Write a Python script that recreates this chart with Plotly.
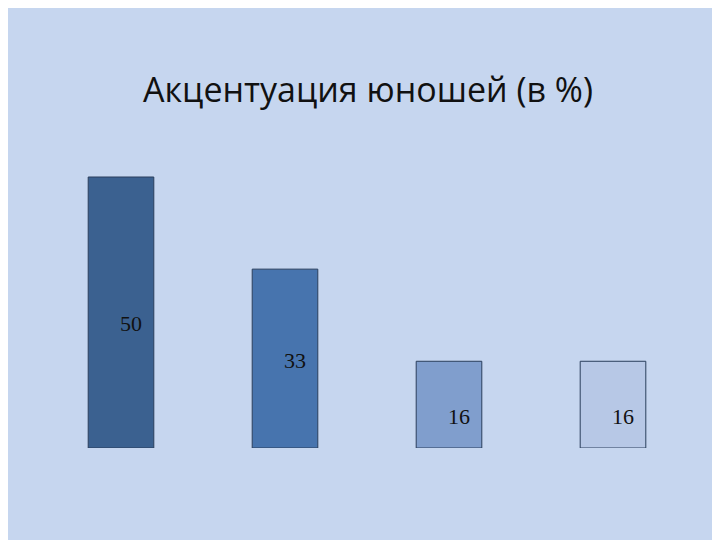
import plotly.graph_objects as go

positions = [0, 1, 2, 3]
values = [50, 33, 16, 16]
labels = ["50", "33", "16", "16"]
colors = ["#3b6190", "#4774ae", "#809ecd", "#b7c8e6"]

fig = go.Figure()
fig.add_trace(go.Bar(
    x=positions, y=values,
    marker=dict(color=colors, line=dict(color="#2a3f5c", width=1)),
    hoverinfo="skip",
))

# value labels sit inside the bars, a bit below the middle
label_pos = [0.46, 0.49, 0.36, 0.36]
for c, v, t, p in zip(positions, values, labels, label_pos):
    fig.add_annotation(x=c, y=v * p, text=t, showarrow=False, xshift=10,
                       font=dict(family="Liberation Serif", size=22, color="#111"))

fig.update_layout(
    width=720, height=540,
    title=dict(text="Акцентуация юношей (в %)", x=0.5, y=0.87, xanchor="center",
               font=dict(family="Open Sans", size=34, color="#111")),
    paper_bgcolor="#c6d6ef", plot_bgcolor="rgba(0,0,0,0)",
    margin=dict(l=31, r=33, t=100, b=100),
    bargap=0.6, showlegend=False,
    xaxis=dict(visible=False, range=[-0.5, 3.5]),
    yaxis=dict(visible=False, range=[0, 50 * 340 / 271]),
)

fig.write_html("out.html")
